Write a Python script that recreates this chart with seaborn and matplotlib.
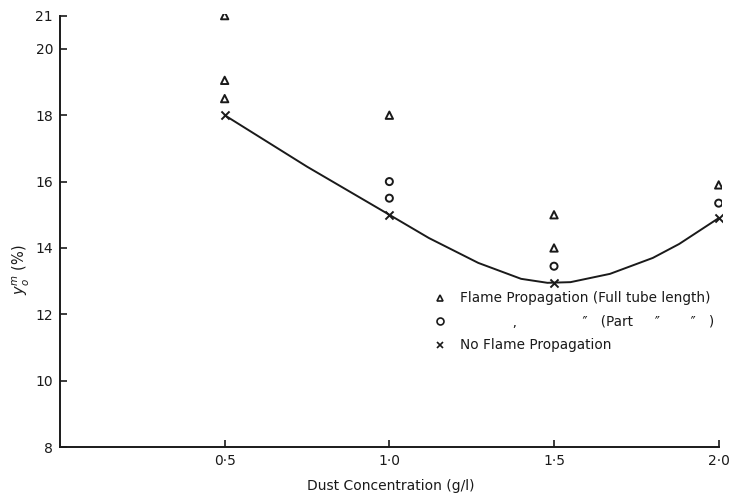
import matplotlib
matplotlib.use("Agg")
import matplotlib.pyplot as plt
import seaborn as sns
import pandas as pd
from matplotlib.lines import Line2D

# ---- data ----
full_x = [0.5, 0.5, 0.5, 1.0, 1.5, 1.5, 2.0]
full_y = [21.0, 19.05, 18.5, 18.0, 15.0, 14.0, 15.9]

part_x = [1.0, 1.0, 1.5, 2.0]
part_y = [16.0, 15.5, 13.45, 15.35]

none_x = [0.5, 1.0, 1.5, 2.0]
none_y = [18.0, 15.0, 12.95, 14.9]

# hand-drawn smooth curve through the "no flame" points
curve_x = [0.5, 0.75, 1.0, 1.12, 1.27, 1.40, 1.48, 1.55, 1.67, 1.80, 1.88, 2.0]
curve_y = [18.0, 16.45, 15.0, 14.3, 13.55, 13.07, 12.95, 12.97, 13.22, 13.7, 14.12, 14.9]

x_ticks = [0.5, 1.0, 1.5, 2.0]
x_ticklabels = ["0·5", "1·0", "1·5", "2·0"]
y_ticks = [8, 10, 12, 14, 16, 18, 20, 21]
y_ticklabels = ["8", "10", "12", "14", "16", "18", "20", "21"]

legend_labels = ["Flame Propagation (Full tube length)",
                 "            ‚               ″   (Part     ″       ″   )",
                 "No Flame Propagation"]

sns.set_theme(style="ticks")
plt.rcParams["font.family"] = ["DejaVu Sans"]
ink = "#1a1a1a"

fig = plt.figure(figsize=(7.38, 4.99), dpi=100)
ax = fig.add_axes([0.0813, 0.104, 0.897, 0.868])

curve_df = pd.DataFrame({"x": curve_x, "y": curve_y})
sns.lineplot(data=curve_df, x="x", y="y", ax=ax, color=ink, lw=1.4,
             estimator=None, sort=False)

sns.scatterplot(x=full_x, y=full_y, ax=ax, marker="^", s=28,
                facecolor="none", edgecolor=ink, linewidth=1.4)
sns.scatterplot(x=part_x, y=part_y, ax=ax, marker="o", s=26,
                facecolor="none", edgecolor=ink, linewidth=1.4)
sns.scatterplot(x=none_x, y=none_y, ax=ax, marker="x", s=34,
                color=ink, linewidth=1.4)

ax.set_xlim(0, 2.01)
ax.set_ylim(8, 21.05)
ax.set_xticks(x_ticks)
ax.set_xticklabels(x_ticklabels)
ax.set_yticks(y_ticks)
ax.set_yticklabels(y_ticklabels)
ax.tick_params(direction="in", length=5, width=1.2, color=ink,
               labelsize=10, labelcolor=ink, pad=5)
for side in ["top", "right"]:
    ax.spines[side].set_visible(False)
for side in ["left", "bottom"]:
    ax.spines[side].set_linewidth(1.4)
    ax.spines[side].set_color(ink)
ax.spines["left"].set_bounds(8, 21)
ax.spines["bottom"].set_bounds(0, 2.0)

ax.set_xlabel("Dust Concentration (g/l)", fontsize=10, color=ink, labelpad=8)
ax.set_ylabel(r"$y_o^m$ (%)", fontsize=10.5, color=ink)
ax.yaxis.set_label_coords(-0.042, 0.41)

handles = [
    Line2D([], [], marker="^", ls="none", mfc="none", mec=ink, ms=5, mew=1.2),
    Line2D([], [], marker="o", ls="none", mfc="none", mec=ink, ms=5, mew=1.2),
    Line2D([], [], marker="x", ls="none", color=ink, ms=5, mew=1.2),
]
leg = ax.legend(handles, legend_labels, loc="upper left",
                bbox_to_anchor=(0.555, 0.372), frameon=False,
                fontsize=9.8, handletextpad=1.0, labelspacing=0.7,
                handlelength=1.0, borderaxespad=0)
for t in leg.get_texts():
    t.set_color(ink)

fig.savefig("out.png", dpi=100)
